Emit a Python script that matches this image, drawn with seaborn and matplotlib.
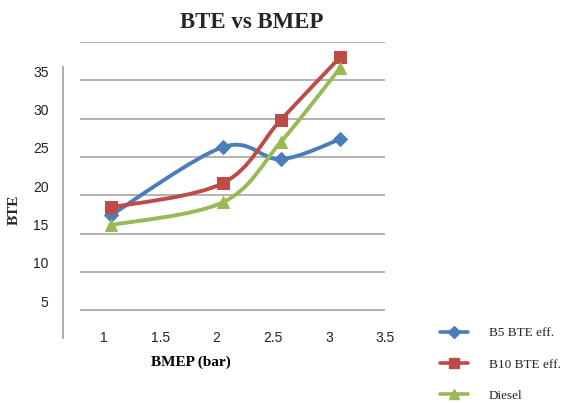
import matplotlib
matplotlib.use("Agg")
import matplotlib.pyplot as plt
import matplotlib.transforms as mtransforms
from matplotlib.path import Path
from matplotlib.patches import PathPatch
from matplotlib.lines import Line2D
import numpy as np
import pandas as pd
import seaborn as sns

# ---- data ----
bmep = [1.06, 2.06, 2.57, 3.10]
b5_bte = [17.4, 26.3, 24.7, 27.3]
b10_bte = [18.4, 21.6, 29.8, 38.0]
diesel_bte = [16.1, 19.1, 26.9, 36.6]
series_names = ["B5 BTE eff.", "B10 BTE eff.", "Diesel"]
x_ticks = [1, 1.5, 2, 2.5, 3, 3.5]
x_tick_labels = ["1", "1.5", "2", "2.5", "3", "3.5"]
y_ticks = [5, 10, 15, 20, 25, 30, 35, 40]
y_tick_labels = ["5", "10", "15", "20", "25", "30", "35", ""]

colors = ["#4A7EBB", "#BE4B48", "#98B954"]
markers = ["D", "s", "^"]
msizes = [7, 9, 9]

sns.set_theme(style="white")
plt.rcParams["font.family"] = ["Liberation Serif", "DejaVu Serif"]

fig = plt.figure(figsize=(5.78, 4.03), dpi=100)
ax = fig.add_axes([80 / 578, 1 - 327 / 403, (385 - 80) / 578, (327 - 42) / 403])

df = pd.DataFrame({
    "BMEP": bmep * 3,
    "BTE": b5_bte + b10_bte + diesel_bte,
    "series": sum([[n] * len(bmep) for n in series_names], []),
})


def smooth_path(xs, ys, t=1 / 6):
    pts = np.column_stack([xs, ys])
    n = len(pts)
    verts = [pts[0]]
    codes = [Path.MOVETO]
    for i in range(n - 1):
        p0 = pts[i - 1] if i > 0 else pts[i]
        p1 = pts[i]
        p2 = pts[i + 1]
        p3 = pts[i + 2] if i + 2 < n else pts[i + 1]
        c1 = p1 + (p2 - p0) * t
        c2 = p2 - (p3 - p1) * t
        verts += [c1, c2, p2]
        codes += [Path.CURVE4] * 3
    return Path(verts, codes)


for name, col in zip(series_names, colors):
    sub = df[df["series"] == name]
    patch = PathPatch(smooth_path(sub["BMEP"].values, sub["BTE"].values),
                      facecolor="none", edgecolor=col, lw=2.8, zorder=3,
                      capstyle="round", joinstyle="round")
    ax.add_patch(patch)

for name, col, mk, ms in zip(series_names, colors, markers, msizes):
    sub = df[df["series"] == name]
    sns.lineplot(data=sub, x="BMEP", y="BTE", ax=ax, color=col, marker=mk,
                 markersize=ms, markeredgecolor=col, linestyle="", zorder=4,
                 legend=False)

ax.set_xlim(0.785, 3.5)
ax.set_ylim(2.8, 40)
ax.set_xticks(x_ticks)
ax.set_xticklabels(x_tick_labels)
ax.set_yticks(y_ticks)
ax.set_yticklabels(y_tick_labels)
ax.grid(axis="y", color="#A6A6A6", lw=1.2)
ax.grid(axis="x", visible=False)
for s in ["top", "right", "bottom"]:
    ax.spines[s].set_visible(False)
ax.spines["left"].set_position(("outward", 12.2))
ax.spines["left"].set_bounds(1.35, 36.7)
ax.spines["left"].set_color("#A6A6A6")
ax.spines["left"].set_linewidth(1.3)
ax.tick_params(axis="both", length=0)
ax.tick_params(axis="y", pad=10.5)
ax.tick_params(axis="x", pad=3)

tick_font = ["Liberation Sans", "DejaVu Sans"]
for lab in ax.get_xticklabels() + ax.get_yticklabels():
    lab.set_family(tick_font)
    lab.set_fontsize(10)
    lab.set_color("#222222")
offset = mtransforms.ScaledTranslation(0, 0.09, fig.dpi_scale_trans)
for lab in ax.get_yticklabels():
    lab.set_transform(lab.get_transform() + offset)

ax.set_xlabel("BMEP (bar)", fontsize=11, fontweight="bold", color="black")
ax.xaxis.set_label_coords((191 - 80) / 305, -(356 - 327) / 285)
ax.set_ylabel("")
fig.text(14 / 578, 1 - 210 / 403, "BTE", rotation=90, fontsize=11,
         fontweight="bold", ha="center", va="center")
fig.text(252 / 578, 1 - 23 / 403, "BTE vs BMEP", fontsize=16.5,
         fontweight="bold", ha="center", va="center")

handles = [Line2D([], [], color=c, lw=2.6, marker=m, markersize=s * 0.85)
           for c, m, s in zip(colors, markers, msizes)]
fig.legend(handles, series_names, loc="upper left",
           bbox_to_anchor=(440 / 578, 1 - 327 / 403), frameon=False,
           fontsize=9.5, handlelength=2.1, handletextpad=1.6,
           labelspacing=1.45, borderpad=0, borderaxespad=0)

fig.savefig("out.png", dpi=100)
